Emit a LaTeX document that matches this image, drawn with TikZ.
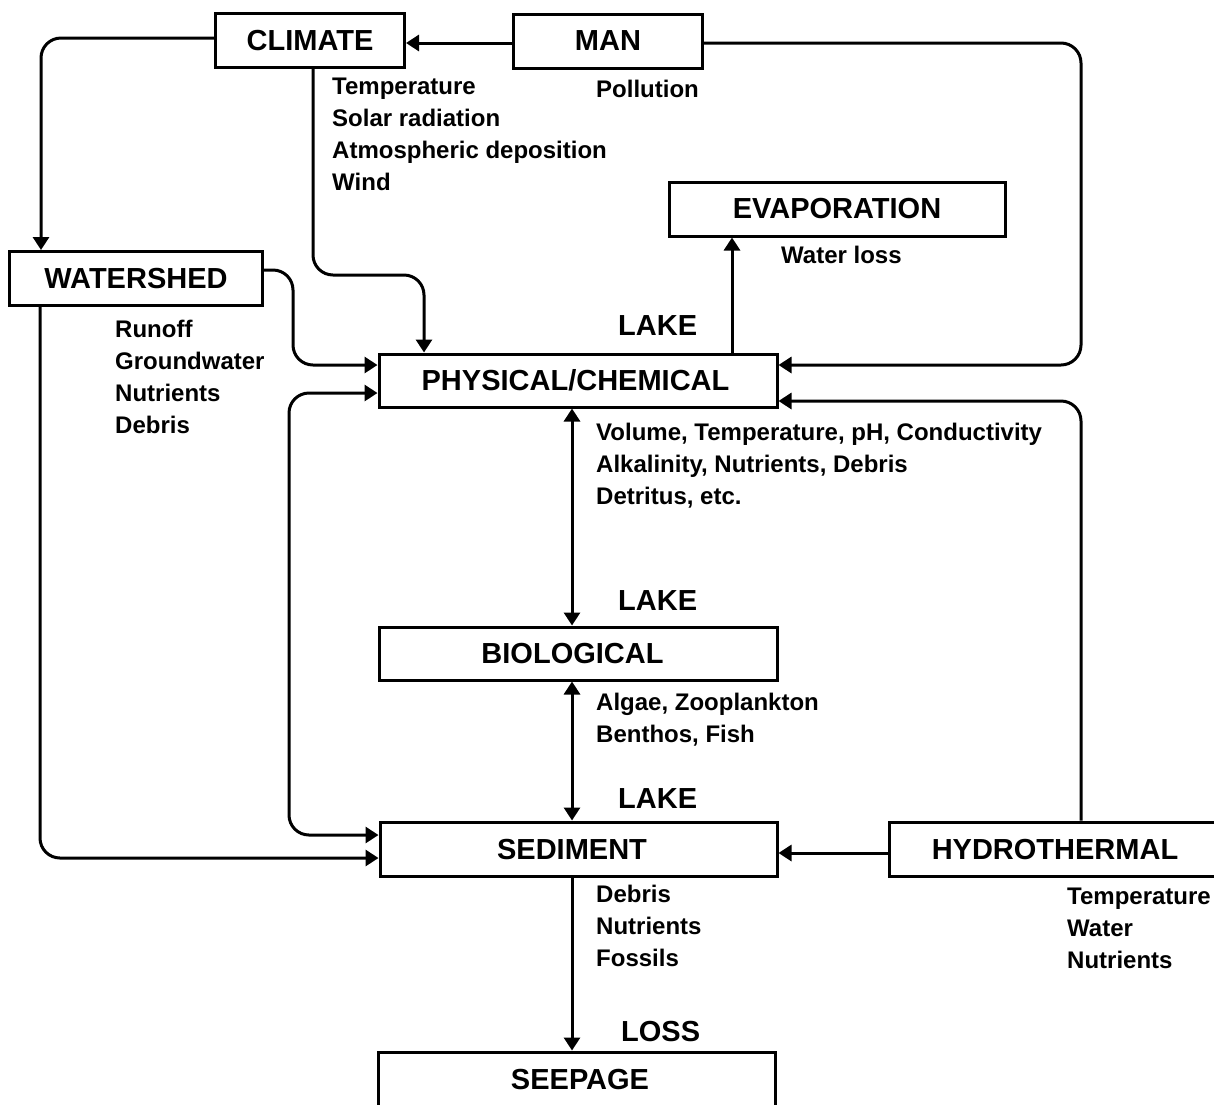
\documentclass[tikz,border=0pt]{standalone}
\usepackage{fontspec}
\setmainfont{Liberation Sans}
\usetikzlibrary{arrows.meta}
\newcommand\BoxFont{\fontsize{29}{34}\selectfont\bfseries}
\newcommand\ListFont{\fontsize{24}{32}\selectfont\bfseries}
\begin{document}
\begin{tikzpicture}[x=1pt,y=-1pt,
  >={Triangle[length=13pt,width=16pt]},
  box/.style={draw,line width=3pt,inner sep=0pt,font=\BoxFont,minimum height=54pt},
  conn/.style={line width=3pt,rounded corners=20pt},
  lst/.style={font=\ListFont,align=left,inner sep=0pt,anchor=north west},
  tag/.style={font=\BoxFont,inner sep=0pt,anchor=west}]
\useasboundingbox (0,0) rectangle (1214,1104);
% boxes
\node[box,minimum width=189pt] (climate) at (310,40.5) {CLIMATE};
\node[box,minimum width=189pt] (man) at (608,41) {MAN};
\node[box,minimum width=336pt] (evap) at (837,209) {EVAPORATION};
\node[box,minimum width=253pt] (watershed) at (136,278.5) {WATERSHED};
\node[box,minimum width=398pt,minimum height=53pt] (phys) at (578,380.5) {PHYSICAL/CHEMICAL\hspace*{5pt}};
\node[box,minimum width=398pt,minimum height=53pt] (bio) at (578,653.5) {BIOLOGICAL\hspace*{11pt}};
\node[box,minimum width=397pt] (sed) at (578.5,849) {SEDIMENT\hspace*{13pt}};
\node[box,minimum width=331pt] (hydro) at (1055,849) {HYDROTHERMAL};
\node[box,minimum width=397pt] (seep) at (576.5,1079) {\hspace*{7pt}SEEPAGE};
% connectors
\draw[conn,->] (climate.west |- 0,38) -| (watershed.north -| 41,0);
\draw[conn,->] (man.west |- 0,43) -- (climate.east |- 0,43);
\draw[conn,->] (man.east |- 0,43) -| (1081,365) -- (phys.east |- 0,365);
\draw[conn,->] (climate.south -| 313,0) |- (424,275) -- (phys.north -| 424,0);
\draw[conn,->] (watershed.east |- 0,270) -| (293,365) -- (phys.west |- 0,365);
\draw[conn,->] (watershed.south -| 40,0) |- (sed.west |- 0,858);
\draw[conn,<->] (phys.west |- 0,393) -| (289,835) -- (sed.west |- 0,835);
\draw[conn,<->] (phys.south -| 572,0) -- (bio.north -| 572,0);
\draw[conn,<->] (bio.south -| 572,0) -- (sed.north -| 572,0);
\draw[conn,->] (sed.south -| 572,0) -- (seep.north -| 572,0);
\draw[conn,->] (phys.north -| 732,0) -- (evap.south -| 732,0);
\draw[conn,->] (hydro.west |- 0,853) -- (sed.east |- 0,853);
\draw[conn,->] (hydro.north -| 1081,0) |- (phys.east |- 0,401);
% texts
\node[lst] (climtxt) at (332,78) {Temperature\\Solar radiation\\Atmospheric deposition\\Wind};
\node[lst] (mantxt) at (596,80) {Pollution};
\node[lst] (evaptxt) at (781,246) {Water loss};
\node[lst] (wstxt) at (115,320) {Runoff\\Groundwater\\Nutrients\\Debris};
\node[lst] (phystxt) at (596,423) {Volume, Temperature, pH, Conductivity\\Alkalinity, Nutrients, Debris\\Detritus, etc.};
\node[lst] (biotxt) at (596,693) {Algae, Zooplankton\\Benthos, Fish};
\node[lst] (sedtxt) at (596,885) {Debris\\Nutrients\\Fossils};
\node[lst] (hydtxt) at (1067,888) {Temperature\\Water\\Nutrients};
\node[tag] (lake1) at (618,326) {LAKE};
\node[tag] (lake2) at (618,601) {LAKE};
\node[tag] (lake3) at (618,799) {LAKE};
\node[tag] (loss) at (621,1031) {LOSS};
\end{tikzpicture}
\end{document}
